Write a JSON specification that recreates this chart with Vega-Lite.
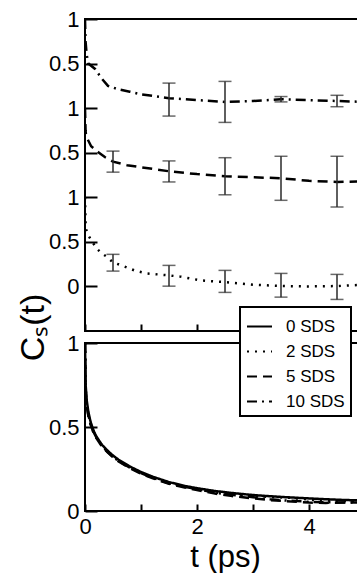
{
  "$schema": "https://vega.github.io/schema/vega-lite/v6.json",
  "background": "white",
  "padding": {"left": 15, "top": 7, "right": 0, "bottom": 0},
  "datasets": {
    "top_curves": [
      {"series": "10 SDS", "t": 0, "c": 3.0},
      {"series": "10 SDS", "t": 0.01, "c": 2.75},
      {"series": "10 SDS", "t": 0.03, "c": 2.6},
      {"series": "10 SDS", "t": 0.06, "c": 2.5},
      {"series": "10 SDS", "t": 0.18, "c": 2.44},
      {"series": "10 SDS", "t": 0.3, "c": 2.33},
      {"series": "10 SDS", "t": 0.41, "c": 2.25},
      {"series": "10 SDS", "t": 0.6, "c": 2.21},
      {"series": "10 SDS", "t": 0.8, "c": 2.185},
      {"series": "10 SDS", "t": 1.0, "c": 2.155},
      {"series": "10 SDS", "t": 1.36, "c": 2.124},
      {"series": "10 SDS", "t": 1.5, "c": 2.112},
      {"series": "10 SDS", "t": 2.0, "c": 2.09},
      {"series": "10 SDS", "t": 2.5, "c": 2.07},
      {"series": "10 SDS", "t": 3.0, "c": 2.08},
      {"series": "10 SDS", "t": 3.5, "c": 2.1},
      {"series": "10 SDS", "t": 4.0, "c": 2.09},
      {"series": "10 SDS", "t": 4.5, "c": 2.08},
      {"series": "10 SDS", "t": 5.0, "c": 2.07},
      {"series": "5 SDS", "t": 0, "c": 2.0},
      {"series": "5 SDS", "t": 0.01, "c": 1.75},
      {"series": "5 SDS", "t": 0.02, "c": 1.685},
      {"series": "5 SDS", "t": 0.11, "c": 1.573},
      {"series": "5 SDS", "t": 0.25, "c": 1.5},
      {"series": "5 SDS", "t": 0.36, "c": 1.449},
      {"series": "5 SDS", "t": 0.5, "c": 1.4},
      {"series": "5 SDS", "t": 0.75, "c": 1.36},
      {"series": "5 SDS", "t": 1.0, "c": 1.337},
      {"series": "5 SDS", "t": 1.5, "c": 1.292},
      {"series": "5 SDS", "t": 2.0, "c": 1.26},
      {"series": "5 SDS", "t": 2.5, "c": 1.236},
      {"series": "5 SDS", "t": 3.0, "c": 1.225},
      {"series": "5 SDS", "t": 3.5, "c": 1.213},
      {"series": "5 SDS", "t": 4.0, "c": 1.185},
      {"series": "5 SDS", "t": 4.5, "c": 1.172},
      {"series": "5 SDS", "t": 5.0, "c": 1.18},
      {"series": "2 SDS", "t": 0, "c": 1.0},
      {"series": "2 SDS", "t": 0.01, "c": 0.72},
      {"series": "2 SDS", "t": 0.02, "c": 0.64},
      {"series": "2 SDS", "t": 0.05, "c": 0.584},
      {"series": "2 SDS", "t": 0.1, "c": 0.53},
      {"series": "2 SDS", "t": 0.2, "c": 0.43},
      {"series": "2 SDS", "t": 0.3, "c": 0.37},
      {"series": "2 SDS", "t": 0.38, "c": 0.337},
      {"series": "2 SDS", "t": 0.5, "c": 0.27},
      {"series": "2 SDS", "t": 0.7, "c": 0.225},
      {"series": "2 SDS", "t": 0.9, "c": 0.175},
      {"series": "2 SDS", "t": 1.1, "c": 0.146},
      {"series": "2 SDS", "t": 1.3, "c": 0.135},
      {"series": "2 SDS", "t": 1.5, "c": 0.124},
      {"series": "2 SDS", "t": 1.7, "c": 0.11},
      {"series": "2 SDS", "t": 2.07, "c": 0.067},
      {"series": "2 SDS", "t": 2.5, "c": 0.048},
      {"series": "2 SDS", "t": 3.0, "c": 0.02},
      {"series": "2 SDS", "t": 3.5, "c": 0.004},
      {"series": "2 SDS", "t": 4.0, "c": 0.0},
      {"series": "2 SDS", "t": 4.5, "c": 0.004},
      {"series": "2 SDS", "t": 5.0, "c": 0.02}
    ],
    "bars": [
      {"series": "10 SDS", "t": 1.5, "lo": 1.911, "hi": 2.281},
      {"series": "10 SDS", "t": 2.5, "lo": 1.84, "hi": 2.3},
      {"series": "10 SDS", "t": 3.5, "lo": 2.07, "hi": 2.13},
      {"series": "10 SDS", "t": 4.5, "lo": 2.016, "hi": 2.144},
      {"series": "5 SDS", "t": 0.5, "lo": 1.282, "hi": 1.518},
      {"series": "5 SDS", "t": 1.5, "lo": 1.172, "hi": 1.408},
      {"series": "5 SDS", "t": 2.5, "lo": 1.028, "hi": 1.444},
      {"series": "5 SDS", "t": 3.5, "lo": 0.966, "hi": 1.46},
      {"series": "5 SDS", "t": 4.5, "lo": 0.891, "hi": 1.46},
      {"series": "2 SDS", "t": 0.5, "lo": 0.172, "hi": 0.36},
      {"series": "2 SDS", "t": 1.5, "lo": 0.003, "hi": 0.236},
      {"series": "2 SDS", "t": 2.5, "lo": -0.067, "hi": 0.18},
      {"series": "2 SDS", "t": 3.5, "lo": -0.12, "hi": 0.146},
      {"series": "2 SDS", "t": 4.5, "lo": -0.146, "hi": 0.135}
    ],
    "bottom": [
      {"series": "0 SDS", "t": 0, "c": 1.0}, {"series": "0 SDS", "t": 0.01, "c": 0.76}, {"series": "0 SDS", "t": 0.03, "c": 0.66}, {"series": "0 SDS", "t": 0.06, "c": 0.59}, {"series": "0 SDS", "t": 0.1, "c": 0.53}, {"series": "0 SDS", "t": 0.15, "c": 0.48}, {"series": "0 SDS", "t": 0.2, "c": 0.445}, {"series": "0 SDS", "t": 0.3, "c": 0.395}, {"series": "0 SDS", "t": 0.4, "c": 0.36}, {"series": "0 SDS", "t": 0.5, "c": 0.33}, {"series": "0 SDS", "t": 0.6, "c": 0.305}, {"series": "0 SDS", "t": 0.8, "c": 0.265}, {"series": "0 SDS", "t": 1.0, "c": 0.232}, {"series": "0 SDS", "t": 1.2, "c": 0.205}, {"series": "0 SDS", "t": 1.5, "c": 0.172}, {"series": "0 SDS", "t": 1.8, "c": 0.148}, {"series": "0 SDS", "t": 2.0, "c": 0.136}, {"series": "0 SDS", "t": 2.3, "c": 0.12}, {"series": "0 SDS", "t": 2.6, "c": 0.108}, {"series": "0 SDS", "t": 3.0, "c": 0.095}, {"series": "0 SDS", "t": 3.3, "c": 0.088}, {"series": "0 SDS", "t": 3.6, "c": 0.082}, {"series": "0 SDS", "t": 4.0, "c": 0.075}, {"series": "0 SDS", "t": 4.3, "c": 0.07}, {"series": "0 SDS", "t": 4.6, "c": 0.066}, {"series": "0 SDS", "t": 5.0, "c": 0.062},
      {"series": "2 SDS", "t": 0, "c": 1.0}, {"series": "2 SDS", "t": 0.01, "c": 0.74}, {"series": "2 SDS", "t": 0.03, "c": 0.64}, {"series": "2 SDS", "t": 0.06, "c": 0.575}, {"series": "2 SDS", "t": 0.1, "c": 0.52}, {"series": "2 SDS", "t": 0.15, "c": 0.47}, {"series": "2 SDS", "t": 0.2, "c": 0.44}, {"series": "2 SDS", "t": 0.3, "c": 0.39}, {"series": "2 SDS", "t": 0.4, "c": 0.355}, {"series": "2 SDS", "t": 0.5, "c": 0.325}, {"series": "2 SDS", "t": 0.6, "c": 0.3}, {"series": "2 SDS", "t": 0.8, "c": 0.26}, {"series": "2 SDS", "t": 1.0, "c": 0.228}, {"series": "2 SDS", "t": 1.2, "c": 0.2}, {"series": "2 SDS", "t": 1.5, "c": 0.168}, {"series": "2 SDS", "t": 1.8, "c": 0.143}, {"series": "2 SDS", "t": 2.0, "c": 0.13}, {"series": "2 SDS", "t": 2.3, "c": 0.112}, {"series": "2 SDS", "t": 2.6, "c": 0.1}, {"series": "2 SDS", "t": 3.0, "c": 0.09}, {"series": "2 SDS", "t": 3.3, "c": 0.084}, {"series": "2 SDS", "t": 3.6, "c": 0.08}, {"series": "2 SDS", "t": 4.0, "c": 0.068}, {"series": "2 SDS", "t": 4.3, "c": 0.063}, {"series": "2 SDS", "t": 4.6, "c": 0.06}, {"series": "2 SDS", "t": 5.0, "c": 0.058},
      {"series": "5 SDS", "t": 0, "c": 1.0}, {"series": "5 SDS", "t": 0.01, "c": 0.72}, {"series": "5 SDS", "t": 0.03, "c": 0.63}, {"series": "5 SDS", "t": 0.06, "c": 0.565}, {"series": "5 SDS", "t": 0.1, "c": 0.515}, {"series": "5 SDS", "t": 0.15, "c": 0.468}, {"series": "5 SDS", "t": 0.2, "c": 0.435}, {"series": "5 SDS", "t": 0.3, "c": 0.385}, {"series": "5 SDS", "t": 0.4, "c": 0.35}, {"series": "5 SDS", "t": 0.5, "c": 0.32}, {"series": "5 SDS", "t": 0.6, "c": 0.295}, {"series": "5 SDS", "t": 0.8, "c": 0.255}, {"series": "5 SDS", "t": 1.0, "c": 0.222}, {"series": "5 SDS", "t": 1.2, "c": 0.196}, {"series": "5 SDS", "t": 1.5, "c": 0.162}, {"series": "5 SDS", "t": 1.8, "c": 0.138}, {"series": "5 SDS", "t": 2.0, "c": 0.125}, {"series": "5 SDS", "t": 2.3, "c": 0.105}, {"series": "5 SDS", "t": 2.6, "c": 0.09}, {"series": "5 SDS", "t": 3.0, "c": 0.075}, {"series": "5 SDS", "t": 3.3, "c": 0.065}, {"series": "5 SDS", "t": 3.6, "c": 0.058}, {"series": "5 SDS", "t": 4.0, "c": 0.05}, {"series": "5 SDS", "t": 4.3, "c": 0.048}, {"series": "5 SDS", "t": 4.6, "c": 0.05}, {"series": "5 SDS", "t": 5.0, "c": 0.052},
      {"series": "10 SDS", "t": 0, "c": 1.0}, {"series": "10 SDS", "t": 0.01, "c": 0.73}, {"series": "10 SDS", "t": 0.03, "c": 0.635}, {"series": "10 SDS", "t": 0.06, "c": 0.57}, {"series": "10 SDS", "t": 0.1, "c": 0.518}, {"series": "10 SDS", "t": 0.15, "c": 0.472}, {"series": "10 SDS", "t": 0.2, "c": 0.44}, {"series": "10 SDS", "t": 0.3, "c": 0.39}, {"series": "10 SDS", "t": 0.4, "c": 0.352}, {"series": "10 SDS", "t": 0.5, "c": 0.322}, {"series": "10 SDS", "t": 0.6, "c": 0.297}, {"series": "10 SDS", "t": 0.8, "c": 0.258}, {"series": "10 SDS", "t": 1.0, "c": 0.226}, {"series": "10 SDS", "t": 1.2, "c": 0.198}, {"series": "10 SDS", "t": 1.5, "c": 0.165}, {"series": "10 SDS", "t": 1.8, "c": 0.142}, {"series": "10 SDS", "t": 2.0, "c": 0.13}, {"series": "10 SDS", "t": 2.3, "c": 0.11}, {"series": "10 SDS", "t": 2.6, "c": 0.097}, {"series": "10 SDS", "t": 3.0, "c": 0.082}, {"series": "10 SDS", "t": 3.3, "c": 0.07}, {"series": "10 SDS", "t": 3.6, "c": 0.062}, {"series": "10 SDS", "t": 4.0, "c": 0.055}, {"series": "10 SDS", "t": 4.3, "c": 0.052}, {"series": "10 SDS", "t": 4.6, "c": 0.05}, {"series": "10 SDS", "t": 5.0, "c": 0.05}
    ]
  },
  "vconcat": [
    {
      "width": 280,
      "height": 312,
      "layer": [
        {
          "data": {"name": "top_curves"},
          "mark": {"type": "line", "strokeWidth": 2.5, "color": "black", "clip": true},
          "encoding": {
            "x": {"field": "t", "type": "quantitative", "scale": {"domain": [0, 5], "nice": false},
              "axis": {"values": [0, 1, 2, 3, 4, 5], "labels": false, "title": null, "tickSize": -7}},
            "y": {"field": "c", "type": "quantitative", "scale": {"domain": [-0.5, 3], "nice": false, "zero": false},
              "axis": {"values": [0, 0.5, 1, 1.5, 2, 2.5, 3],
                "labelExpr": "datum.value == 0 ? '0' : (datum.value % 1 == 0 ? '1' : '0.5')",
                "tickSize": -12, "labelPadding": 18,
                "title": "Cₛ(t)", "titleFontSize": 34, "titleX": -52, "titleY": 308,
                "titleAngle": -90, "titleAlign": "center", "titleBaseline": "middle"}},
            "strokeDash": {"field": "series", "type": "nominal",
              "scale": {"domain": ["0 SDS", "2 SDS", "5 SDS", "10 SDS"], "range": [[1, 0], [2, 6], [10, 6], [10, 5, 2, 5]]},
              "legend": null}
          }
        },
        {
          "data": {"name": "bars"},
          "mark": {"type": "errorbar", "color": "#2a2a2a", "thickness": 1.5, "ticks": {"size": 13, "color": "#2a2a2a"}, "rule": {"color": "#2a2a2a"}},
          "encoding": {
            "x": {"field": "t", "type": "quantitative"},
            "y": {"field": "lo", "type": "quantitative", "title": "Cₛ(t)"},
            "y2": {"field": "hi"}
          }
        }
      ]
    },
    {
      "width": 280,
      "height": 168,
      "data": {"name": "bottom"},
      "mark": {"type": "line", "strokeWidth": 2.5, "color": "black", "clip": true},
      "encoding": {
        "x": {"field": "t", "type": "quantitative", "scale": {"domain": [0, 5], "nice": false},
          "axis": {"values": [0, 1, 2, 3, 4, 5], "labelExpr": "datum.value % 2 == 0 ? datum.label : ''",
            "labelFlush": false, "tickSize": -7, "labelPadding": 12,
            "title": "t (ps)", "titleFontSize": 31, "titleY": 46, "titleBaseline": "middle"}},
        "y": {"field": "c", "type": "quantitative", "scale": {"domain": [0, 1], "nice": false},
          "axis": {"values": [0, 0.5, 1], "format": "~g", "tickSize": -12, "labelPadding": 18, "title": null}},
        "strokeDash": {"field": "series", "type": "nominal",
          "scale": {"domain": ["0 SDS", "2 SDS", "5 SDS", "10 SDS"], "range": [[1, 0], [2, 6], [10, 6], [10, 5, 2, 5]]},
          "legend": {"orient": "none", "legendX": 155, "legendY": -36, "title": null,
            "symbolType": "stroke", "symbolSize": 625, "symbolStrokeWidth": 2, "symbolStrokeColor": "black",
            "labelFontSize": 17, "labelOffset": 13, "rowPadding": 3, "padding": 6,
            "strokeColor": "black", "fillColor": "white"}}
      }
    }
  ],
  "spacing": 12,
  "bounds": "flush",
  "resolve": {"legend": {"strokeDash": "independent"}},
  "config": {
    "font": "Liberation Sans",
    "view": {"stroke": "black", "strokeWidth": 2},
    "axis": {"labelFontSize": 22, "labelColor": "black", "tickColor": "black", "tickWidth": 2,
      "titleColor": "black", "titleFontWeight": "normal", "grid": false, "domain": false,
      "labelFont": "Liberation Sans", "titleFont": "Liberation Sans"},
    "legend": {"labelFont": "Liberation Sans", "labelColor": "black", "strokeWidth": 2}
  }
}
